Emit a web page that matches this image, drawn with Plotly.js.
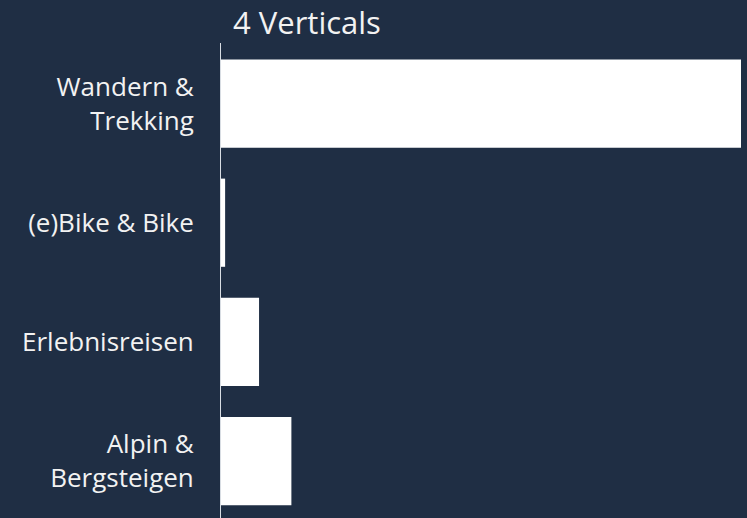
<!DOCTYPE html>
<html>
<head>
<meta charset="utf-8">
<script src="https://cdn.plot.ly/plotly-3.0.1.min.js"></script>
<style>html,body{margin:0;padding:0;background:#1f2e44;}</style>
</head>
<body>
<div id="chart" style="width:747px;height:518px;"></div>
<script>
const categories = ["Wandern &<br>Trekking", "(e)Bike & Bike", "Erlebnisreisen", "Alpin &<br>Bergsteigen"];
const values = [82, 0.65, 6.0, 11.1];
const chartTitle = "4 Verticals";

const trace = {
  type: 'bar',
  orientation: 'h',
  y: categories,
  x: values,
  marker: {color: '#ffffff', line: {width: 0}},
  hoverinfo: 'x+y'
};

const layout = {
  width: 747,
  height: 518,
  paper_bgcolor: '#1f2e44',
  plot_bgcolor: '#1f2e44',
  margin: {l: 221, r: 6, t: 43, b: 0},
  bargap: 0.26,
  showlegend: false,
  title: {
    text: chartTitle,
    font: {family: 'Open Sans, sans-serif', size: 31, color: '#f2f2f2'},
    xref: 'container', yref: 'container',
    x: 233/747, xanchor: 'left',
    y: 1 - 23/518, yanchor: 'middle'
  },
  xaxis: {
    range: [0, 82],
    showgrid: false, zeroline: false, showticklabels: false,
    showline: false, ticks: ''
  },
  yaxis: {
    range: [3.478, -0.508],
    showgrid: false, zeroline: false,
    showline: true, linecolor: '#d8dde3', linewidth: 1,
    ticks: '',
    ticklabelstandoff: 21,
    tickfont: {family: 'Open Sans, sans-serif', size: 26, color: '#f2f2f2'}
  }
};

Plotly.newPlot('chart', [trace], layout, {displayModeBar: false, staticPlot: true});
</script>
</body>
</html>
